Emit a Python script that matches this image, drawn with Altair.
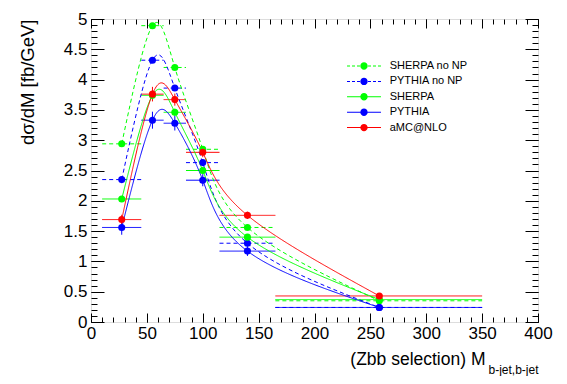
import altair as alt
import pandas as pd

series = ["SHERPA no NP", "PYTHIA no NP", "SHERPA", "PYTHIA", "aMC@NLO"]
colors = ["#00ff00", "#0000ff", "#00ff00", "#0000ff", "#ff0000"]
dashes = [[4, 3], [4, 3], [1, 0], [1, 0], [1, 0]]
dashed_entry = [True, True, False, False, False]

bin_lo = [10, 45, 65, 85, 115, 165]
bin_hi = [45, 65, 85, 115, 165, 350]
bin_x = [27.5, 55, 75, 100, 140, 258]

sherpa_nonp = [2.94, 4.89, 4.20, 2.85, 1.56, 0.35]
pythia_nonp = [2.35, 4.32, 3.86, 2.63, 1.30, 0.24]
sherpa = [2.03, 3.74, 3.46, 2.50, 1.40, 0.37]
pythia = [1.56, 3.33, 3.28, 2.34, 1.17, 0.24]
amcnlo = [1.69, 3.76, 3.67, 2.80, 1.76, 0.43]

err_sherpa_nonp = [0, 0, 0, 0, 0, 0]
err_pythia_nonp = [0, 0, 0, 0, 0, 0]
err_sherpa = [0.05, 0.06, 0.06, 0.05, 0.04, 0.02]
err_pythia = [0.12, 0.14, 0.12, 0.1, 0.08, 0.03]
err_amcnlo = [0.08, 0.12, 0.1, 0.08, 0.06, 0.02]

values = [sherpa_nonp, pythia_nonp, sherpa, pythia, amcnlo]
errors = [err_sherpa_nonp, err_pythia_nonp, err_sherpa, err_pythia, err_amcnlo]

rows = []
for s, vals, errs in zip(series, values, errors):
    for lo, hi, xc, v, e in zip(bin_lo, bin_hi, bin_x, vals, errs):
        rows.append({"series": s, "lo": lo, "hi": hi, "xc": xc, "val": v,
                     "ylo": v - e, "yhi": v + e, "err": e})
df = pd.DataFrame(rows)

FONT = "Liberation Sans"
x_scale = alt.Scale(domain=[0, 400], nice=False, zero=False)
y_scale = alt.Scale(domain=[0, 5], nice=False, zero=False)
# scales for the drawn marks (reversed order so they stay apart from the legend scales)
mark_col = alt.Scale(domain=series[::-1], range=colors[::-1])
mark_dash = alt.Scale(domain=series[::-1], range=dashes[::-1])

# legend symbols: line (dashed or solid) with a dot in the middle
CIRC = "M0.65,0A0.65,0.65,0,1,1,-0.65,0A0.65,0.65,0,1,1,0.65,0Z"
def seg(a, b):
    return f"M{a},-0.09L{b},-0.09L{b},0.09L{a},0.09Z"
SOLID = seg(-3, -0.6) + seg(0.6, 3) + CIRC
DASHED = (seg(-3, -2.47) + seg(-2.12, -1.59) + seg(-1.24, -0.71)
          + seg(0.71, 1.24) + seg(1.59, 2.12) + seg(2.47, 3) + CIRC)
leg_shapes = [DASHED if d else SOLID for d in dashed_entry]
leg_fill = alt.Scale(domain=series, range=colors)
leg_shape = alt.Scale(domain=series, range=leg_shapes)

x_major = list(range(0, 401, 50))
x_minor = list(range(0, 401, 10))
y_major = [i / 2 for i in range(11)]
y_minor = [i / 10 for i in range(51)]

common = dict(domain=False, grid=False, tickColor="black", tickWidth=1,
              labelFont=FONT, titleFont=FONT, labelColor="black", titleColor="black",
              titleFontWeight="normal")

ax_xb_major = alt.Axis(values=x_major, orient="bottom", offset=-9, tickSize=9,
                       labelFontSize=17, labelPadding=3, labelOverlap=False, labelFlush=False,
                       format="d", title="(Zbb selection) M", titleFontSize=17.5,
                       titleX=394, titleY=51, titleAlign="right", titleBaseline="alphabetic",
                       **common)
ax_xb_minor = alt.Axis(values=x_minor, orient="bottom", offset=-5, tickSize=5, labels=False,
                       title="b-jet,b-jet", titleFontSize=12, titleX=447, titleY=56,
                       titleAlign="right", titleBaseline="alphabetic", **common)
ax_xt_major = alt.Axis(values=x_major, orient="top", offset=-9, tickSize=9, labels=False,
                       title=None, **common)
ax_xt_minor = alt.Axis(values=x_minor, orient="top", offset=-5, tickSize=5, labels=False,
                       title=None, **common)

ax_yl_major = alt.Axis(values=y_major, orient="left", offset=-13, tickSize=13,
                       labelFontSize=17, labelPadding=4, labelOverlap=False, labelFlush=False,
                       format="~g", title="d\u03c3/dM [fb/GeV]", titleFontSize=18.5,
                       titleAngle=270, titleAlign="right", titleBaseline="middle",
                       titleX=-77, titleY=0, **common)
ax_yl_minor = alt.Axis(values=y_minor, orient="left", offset=-6, tickSize=6, labels=False,
                       title=None, **common)
ax_yr_major = alt.Axis(values=y_major, orient="right", offset=-13, tickSize=13, labels=False,
                       title=None, **common)
ax_yr_minor = alt.Axis(values=y_minor, orient="right", offset=-6, tickSize=6, labels=False,
                       title=None, **common)

legend = alt.Legend(
    title=None, orient="none", legendX=267, legendY=41, padding=0,
    symbolSize=128, symbolStrokeWidth=0, symbolOpacity=1, rowPadding=4.4,
    labelOffset=19.7, labelFont=FONT, labelFontSize=11, labelColor="black",
)

base = alt.Chart(df)

hbars = base.mark_rule(strokeWidth=1).encode(
    x=alt.X("lo:Q", scale=x_scale, axis=ax_xb_major),
    x2="hi:Q",
    y=alt.Y("val:Q", scale=y_scale, axis=ax_yl_major),
    color=alt.Color("series:N", scale=mark_col, legend=None),
    strokeDash=alt.StrokeDash("series:N", scale=mark_dash, legend=None),
)

vbars = base.transform_filter("datum.err > 0").mark_rule(strokeWidth=1).encode(
    x=alt.X("xc:Q", scale=x_scale, axis=ax_xb_minor),
    y=alt.Y("ylo:Q", scale=y_scale, axis=ax_yl_minor),
    y2="yhi:Q",
    color=alt.Color("series:N", scale=mark_col, legend=None),
)

curves = base.mark_line(interpolate="natural", strokeWidth=1).encode(
    x=alt.X("xc:Q", scale=x_scale, axis=ax_xt_major),
    y=alt.Y("val:Q", scale=y_scale, axis=ax_yr_major),
    color=alt.Color("series:N", scale=mark_col, legend=None),
    strokeDash=alt.StrokeDash("series:N", scale=mark_dash, legend=None),
    detail="series:N",
)

points = base.mark_point(filled=True, size=50, opacity=1).encode(
    x=alt.X("xc:Q", scale=x_scale, axis=ax_xt_minor),
    y=alt.Y("val:Q", scale=y_scale, axis=ax_yr_minor),
    color=alt.Color("series:N", scale=mark_col, legend=None),
)

legend_layer = base.mark_point(filled=True, size=1, opacity=0, strokeWidth=0).encode(
    x=alt.X("xc:Q", scale=x_scale, axis=None),
    y=alt.Y("val:Q", scale=y_scale, axis=None),
    fill=alt.Fill("series:N", scale=leg_fill, legend=legend),
    shape=alt.Shape("series:N", scale=leg_shape, legend=legend),
)

chart = alt.layer(hbars, vbars, curves, points, legend_layer).resolve_axis(
    x="independent", y="independent"
).properties(
    width=447, height=303,
    autosize=alt.AutoSizeParams(type="none"),
    padding={"left": 83, "top": 11, "right": 21, "bottom": 54},
).configure_view(stroke="black", strokeWidth=1).configure(font=FONT, background="white")

chart.save("out.html", embed_options={"renderer": "svg", "actions": False})
